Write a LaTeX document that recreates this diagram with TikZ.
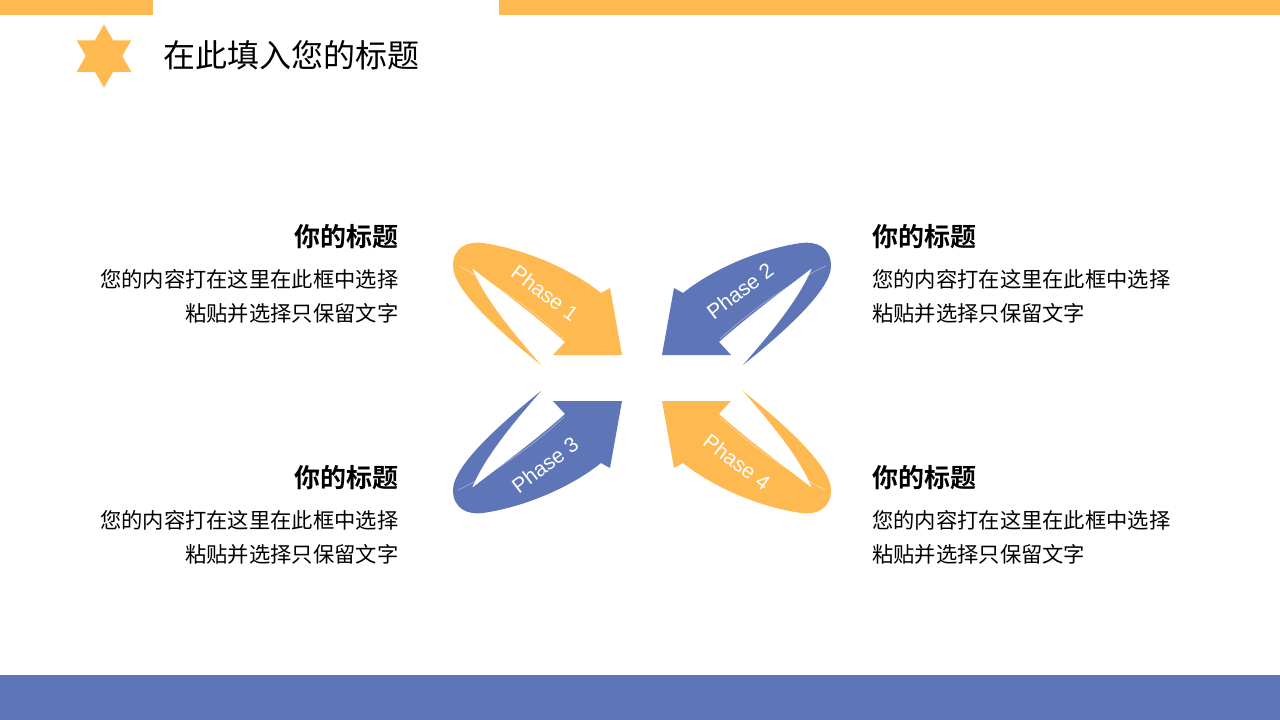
\documentclass[tikz,border=0pt]{standalone}
\usepackage{fontspec}
\newfontfamily\cjk{Noto Sans CJK SC}[BoldFont={Noto Sans CJK SC Bold}]
\newfontfamily\arial{Liberation Sans}
\definecolor{org}{HTML}{FFB951}
\definecolor{blu}{HTML}{5E75B8}
\tikzset{
  headtxt/.style={font=\cjk\bfseries\fontsize{26}{30}\selectfont, inner sep=0pt},
  bodytxt/.style={font=\cjk\fontsize{21.3}{25}\selectfont, inner sep=0pt},
  phasetxt/.style={font=\arial\fontsize{21}{24}\selectfont, text=white, inner sep=0pt},
  hl/.style={draw=white, draw opacity=0.45, line width=0.6pt}
}
\def\ribbon{(-101,-13) .. controls (-142,-46) and (-189,-88) .. (-189,-112)
  .. controls (-189,-131) and (-174,-137) .. (-159,-135)
  .. controls (-112,-128) and (-67,-106) .. (-41,-85)
  -- (-32,-90) -- (-20,-23) -- (-89,-23) -- (-77,-36)
  .. controls (-107,-63) and (-147,-92) .. (-170,-110)
  .. controls (-157,-78) and (-127,-43) .. cycle}
\def\hline{(-78,-39) .. controls (-107,-66) and (-147,-95) .. (-184,-112)}
\begin{document}
\begin{tikzpicture}[x=1pt,y=-1pt]
\useasboundingbox (0,0) rectangle (1280,720);
\fill[white] (0,0) rectangle (1280,720);
% bars
\fill[org] (0,0) rectangle (153,15);
\fill[org] (499,0) rectangle (1280,15);
\fill[blu] (0,675) rectangle (1280,720);
% star
\fill[org] (104,24.5) -- (131.3,71.75) -- (76.7,71.75) -- cycle;
\fill[org] (104,87.5) -- (131.3,40.25) -- (76.7,40.25) -- cycle;
\node[font=\cjk\fontsize{32}{36}\selectfont, anchor=base west, inner sep=0pt] (title) at (163,67.5) {在此填入您的标题};
% ribbons
\begin{scope}[shift={(642,378)}]
  \fill[org] \ribbon; \draw[hl] \hline;
\end{scope}
\begin{scope}[shift={(642,378)}, xscale=-1]
  \fill[blu] \ribbon; \draw[hl] \hline;
\end{scope}
\begin{scope}[shift={(642,378)}, yscale=-1]
  \fill[blu] \ribbon; \draw[hl] \hline;
\end{scope}
\begin{scope}[shift={(642,378)}, xscale=-1, yscale=-1]
  \fill[org] \ribbon; \draw[hl] \hline;
\end{scope}
\node[phasetxt, rotate=-37] (p1) at (545,293) {Phase 1};
\node[phasetxt, rotate=37] (p2) at (740,291) {Phase 2};
\node[phasetxt, rotate=37] (p3) at (545,465) {Phase 3};
\node[phasetxt, rotate=-37] (p4) at (737,462) {Phase 4};
% texts left
\node[headtxt, anchor=base east] (h1) at (398.5,246.5) {你的标题};
\node[bodytxt, anchor=base east] (b1a) at (398.5,287.8) {您的内容打在这里在此框中选择};
\node[bodytxt, anchor=base east] (b1b) at (398.5,321.8) {粘贴并选择只保留文字};
\node[headtxt, anchor=base east] (h3) at (398.5,487.5) {你的标题};
\node[bodytxt, anchor=base east] (b3a) at (398.5,528.8) {您的内容打在这里在此框中选择};
\node[bodytxt, anchor=base east] (b3b) at (398.5,562.8) {粘贴并选择只保留文字};
% texts right
\node[headtxt, anchor=base west] (h2) at (872,246.5) {你的标题};
\node[bodytxt, anchor=base west] (b2a) at (872,287.8) {您的内容打在这里在此框中选择};
\node[bodytxt, anchor=base west] (b2b) at (872,321.8) {粘贴并选择只保留文字};
\node[headtxt, anchor=base west] (h4) at (872,487.5) {你的标题};
\node[bodytxt, anchor=base west] (b4a) at (872,528.8) {您的内容打在这里在此框中选择};
\node[bodytxt, anchor=base west] (b4b) at (872,562.8) {粘贴并选择只保留文字};
\end{tikzpicture}
\end{document}
